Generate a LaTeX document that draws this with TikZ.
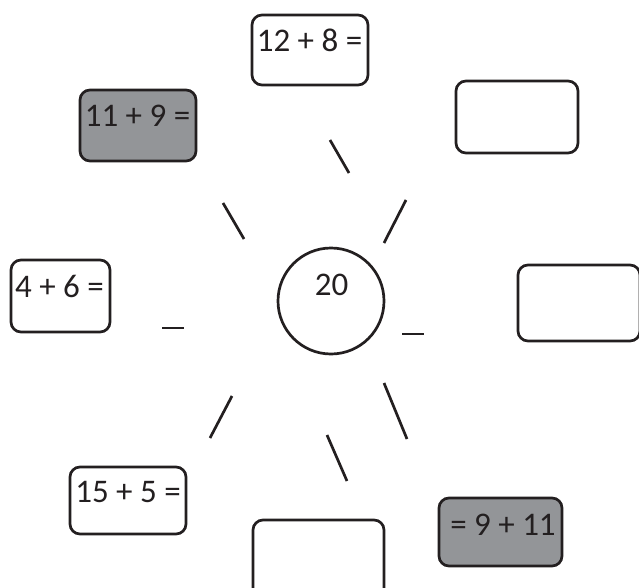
\documentclass[tikz,border=0pt]{standalone}
\usepackage{fontspec}
\setmainfont{Carlito}
\definecolor{ink}{RGB}{35,31,32}
\definecolor{boxgray}{RGB}{147,149,152}
\begin{document}
\begin{tikzpicture}[x=1pt,y=-1pt,
  box/.style={draw=ink,line width=2.7pt,rounded corners=10pt,rectangle,inner sep=0pt},
  graybox/.style={box,fill=boxgray},
  lbl/.style={inner sep=0pt,anchor=base,text=ink,font=\fontsize{33}{36}\selectfont},
  ray/.style={draw=ink,line width=2.7pt}]
\useasboundingbox (0,0) rectangle (639,588);
% boxes
\node[box,minimum width=116pt,minimum height=70pt] (b1) at (310,50) {};
\node[graybox,minimum width=116pt,minimum height=71pt] (b2) at (138,125.5) {};
\node[box,minimum width=122pt,minimum height=72pt] (b3) at (517,117) {};
\node[box,minimum width=99pt,minimum height=72pt] (b4) at (60.5,296) {};
\node[box,minimum width=122pt,minimum height=76pt] (b5) at (579,303) {};
\node[box,minimum width=116pt,minimum height=67pt] (b6) at (128,500.5) {};
\node[box,minimum width=131pt,minimum height=80pt] (b7) at (318.5,560) {};
\node[graybox,minimum width=123pt,minimum height=68pt] (b8) at (500.5,532) {};
\node[circle,draw=ink,line width=2.7pt,minimum size=106pt,inner sep=0pt] (c) at (331,301) {};
% texts
\node[lbl] (t1) at (309.5,52) {12 + 8 =};
\node[lbl] (t2) at (137.5,127) {11 + 9 =};
\node[lbl] (t4) at (59.5,297) {4 + 6 =};
\node[lbl] (t6) at (128,502) {15 + 5 =};
\node[lbl] (t8) at (503,535) {= 9 + 11};
\node[lbl] (t0) at (331.5,295) {20};
% rays
\draw[ray] (330,140) -- (349,173);
\draw[ray] (223,203) -- (244,239);
\draw[ray] (406,200) -- (384,243);
\draw[ray] (162,328) -- (184,328);
\draw[ray] (402,334) -- (424,334);
\draw[ray] (232,396) -- (210,438);
\draw[ray] (384,383) -- (407,439);
\draw[ray] (327,435) -- (347,481);
\end{tikzpicture}
\end{document}
